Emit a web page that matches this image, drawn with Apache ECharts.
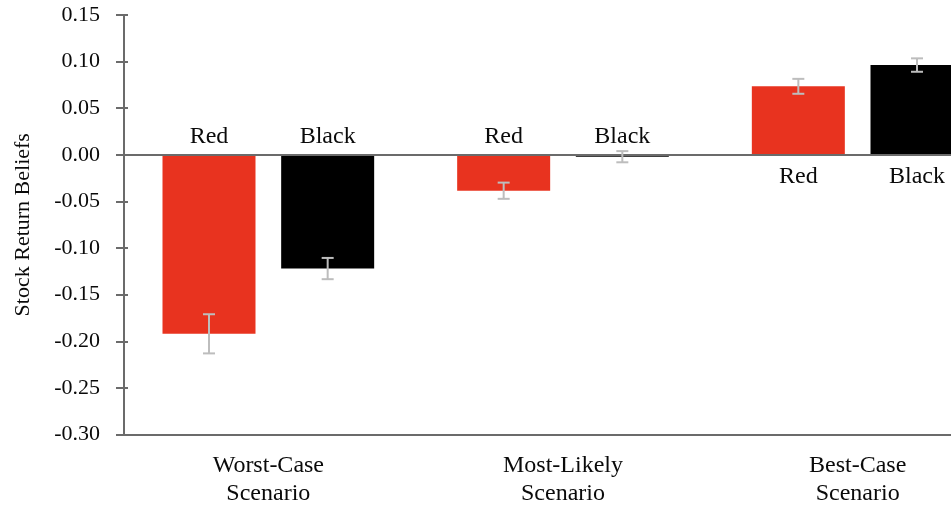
<!DOCTYPE html>
<html>
<head>
<meta charset="utf-8">
<script src="https://cdn.jsdelivr.net/npm/echarts@6/dist/echarts.min.js"></script>
<style>
  html, body { margin: 0; padding: 0; background: #ffffff; }
  #chart { width: 951px; height: 512px; }
</style>
</head>
<body>
<div id="chart"></div>
<script>
// Scenario categories (two-line labels)
const categories = ['Worst-Case\nScenario', 'Most-Likely\nScenario', 'Best-Case\nScenario'];

// Mean stock return beliefs by colour condition
const redValues = [-0.192, -0.0385, 0.0735];
const blackValues = [-0.122, -0.002, 0.0963];

// Standard errors
const redErrors = [0.021, 0.0087, 0.008];
const blackErrors = [0.0114, 0.006, 0.0072];

// Bar labels
const redName = 'Red';
const blackName = 'Black';

// Y axis range / ticks
const yMin = -0.30;
const yMax = 0.15;
const yStep = 0.05;

const FONT = '"Liberation Serif", "Times New Roman", serif';
const TEXT_COLOR = '#0a0a0a';
const AXIS_COLOR = '#6b6b6b';
const RED = '#E8331F';
const BLACK = '#000000';
const ERR_COLOR = '#bdbdbd';
const BAR_W = 93;
const BAR_GAP = 0.276;

// Negative bars get their name above the zero line, positive bars below it
function barData(values) {
  return values.map(v => ({
    value: v,
    label: v < 0 ? { position: 'top', distance: 6 } : { position: 'bottom', distance: 10 }
  }));
}

function errorSeries(values, errors, side) {
  return {
    type: 'custom',
    z: 5,
    silent: true,
    data: values.map((v, i) => [i, v, errors[i]]),
    encode: { x: 0, y: 1 },
    renderItem: function (params, api) {
      const idx = api.value(0);
      const v = api.value(1);
      const e = api.value(2);
      const offset = side * BAR_W * (1 + BAR_GAP) / 2;
      const hi = api.coord([idx, v + e]);
      const lo = api.coord([idx, v - e]);
      const x = hi[0] + offset;
      const cap = 6;
      const style = { stroke: ERR_COLOR, lineWidth: 2 };
      return {
        type: 'group',
        children: [
          { type: 'line', shape: { x1: x, y1: hi[1], x2: x, y2: lo[1] }, style: style },
          { type: 'line', shape: { x1: x - cap, y1: hi[1], x2: x + cap, y2: hi[1] }, style: style },
          { type: 'line', shape: { x1: x - cap, y1: lo[1], x2: x + cap, y2: lo[1] }, style: style }
        ]
      };
    }
  };
}

const chart = echarts.init(document.getElementById('chart'), null, { renderer: 'canvas' });

const labelStyle = {
  show: true,
  fontFamily: FONT,
  fontSize: 24,
  color: TEXT_COLOR
};

chart.setOption({
  animation: false,
  backgroundColor: '#ffffff',
  grid: {
    left: 121, top: 15, width: 884, height: 419.5,
    containLabel: false,
    outerBoundsMode: 'none'
  },
  xAxis: {
    type: 'category',
    data: categories,
    axisLine: { show: true, onZero: false, lineStyle: { color: AXIS_COLOR, width: 2 } },
    axisTick: { show: false },
    axisLabel: {
      fontFamily: FONT,
      fontSize: 24,
      color: TEXT_COLOR,
      lineHeight: 28,
      margin: 17,
      interval: 0
    },
    splitLine: { show: false }
  },
  yAxis: [
    {
      type: 'value',
      min: yMin,
      max: yMax,
      interval: yStep,
      offset: -3,
      name: 'Stock Return Beliefs',
      nameLocation: 'middle',
      nameGap: 90,
      nameRotate: 90,
      nameTextStyle: { fontFamily: FONT, fontSize: 22, color: TEXT_COLOR },
      axisLine: { show: true, lineStyle: { color: AXIS_COLOR, width: 2 } },
      axisTick: { show: true, inside: false, length: 8, lineStyle: { color: AXIS_COLOR, width: 2 } },
      axisLabel: {
        fontFamily: FONT,
        fontSize: 22,
        color: TEXT_COLOR,
        margin: 24,
        formatter: v => v.toFixed(2)
      },
      splitLine: { show: false }
    },
    {
      type: 'value',
      min: yMin,
      max: yMax,
      interval: yStep,
      position: 'left',
      offset: -3,
      axisLine: { show: false },
      axisTick: { show: true, inside: true, length: 4, lineStyle: { color: AXIS_COLOR, width: 2 } },
      axisLabel: { show: false },
      splitLine: { show: false }
    }
  ],
  series: [
    {
      name: redName,
      type: 'bar',
      barWidth: BAR_W,
      barGap: (BAR_GAP * 100) + '%',
      itemStyle: { color: RED },
      label: Object.assign({}, labelStyle, { formatter: redName }),
      data: barData(redValues),
      markLine: {
        silent: true,
        symbol: 'none',
        label: { show: false },
        lineStyle: { color: AXIS_COLOR, width: 2, type: 'solid' },
        data: [{ yAxis: 0 }]
      }
    },
    {
      name: blackName,
      type: 'bar',
      barWidth: BAR_W,
      itemStyle: { color: BLACK },
      label: Object.assign({}, labelStyle, { formatter: blackName }),
      data: barData(blackValues)
    },
    errorSeries(redValues, redErrors, -1),
    errorSeries(blackValues, blackErrors, 1)
  ]
});
</script>
</body>
</html>
